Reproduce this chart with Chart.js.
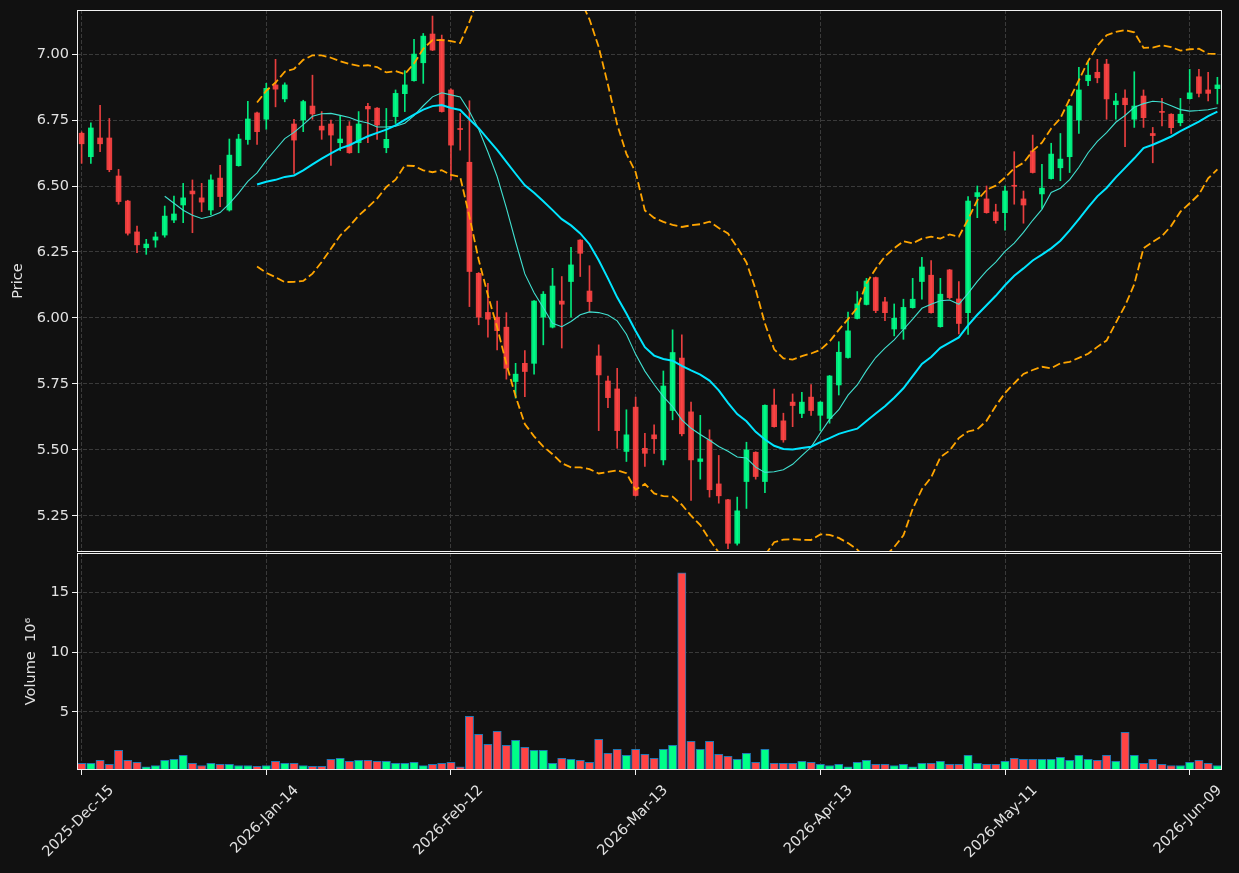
<!DOCTYPE html>
<html>
<head>
<meta charset="utf-8">
<script src="https://cdn.jsdelivr.net/npm/chart.js@4.4.1/dist/chart.umd.min.js"></script>
<style>
  html, body { margin: 0; padding: 0; background: #111111; }
  #wrap { position: relative; width: 1239px; height: 873px; background: #111111; overflow: hidden; }
  #priceCanvas { position: absolute; left: 0; top: 0; }
  #volCanvas { position: absolute; left: 0; top: 553px; }
</style>
</head>
<body>
<div id="wrap">
  <canvas id="priceCanvas" width="1239" height="553" style="width:1239px;height:553px"></canvas>
  <canvas id="volCanvas" width="1239" height="320" style="width:1239px;height:320px"></canvas>
</div>
<script>
/* Daily candles + MA(10), MA(20), Bollinger(20, 2) and a volume panel. */

// ---- Data (one entry per trading day) ----
const opens = [6.700, 6.611, 6.682, 6.682, 6.538, 6.443, 6.326, 6.266, 6.295, 6.314,
  6.371, 6.428, 6.481, 6.455, 6.409, 6.530, 6.409, 6.577, 6.676, 6.777,
  6.753, 6.883, 6.830, 6.735, 6.750, 6.803, 6.727, 6.735, 6.664, 6.727,
  6.664, 6.802, 6.795, 6.645, 6.763, 6.850, 6.899, 6.967, 7.076, 7.056,
  6.864, 6.718, 6.590, 6.169, 6.021, 6.003, 5.965, 5.759, 5.828, 5.828,
  6.003, 5.965, 6.064, 6.138, 6.295, 6.102, 5.856, 5.761, 5.731, 5.494,
  5.662, 5.506, 5.557, 5.462, 5.649, 5.848, 5.644, 5.456, 5.538, 5.371,
  5.311, 5.146, 5.380, 5.491, 5.380, 5.670, 5.610, 5.681, 5.638, 5.700,
  5.631, 5.619, 5.746, 5.850, 5.998, 6.051, 6.153, 6.061, 5.958, 5.958,
  6.039, 6.138, 6.162, 5.967, 6.182, 6.072, 6.020, 6.460, 6.451, 6.402,
  6.399, 6.501, 6.451, 6.633, 6.470, 6.528, 6.569, 6.611, 6.750, 6.899,
  6.931, 6.962, 6.808, 6.833, 6.753, 6.841, 6.699, 6.781, 6.772, 6.740,
  6.831, 6.914, 6.864, 6.869];

const highs = [6.705, 6.739, 6.806, 6.756, 6.563, 6.446, 6.348, 6.298, 6.325, 6.424,
  6.462, 6.510, 6.523, 6.510, 6.542, 6.578, 6.678, 6.696, 6.821, 6.780,
  6.889, 6.980, 6.891, 6.753, 6.825, 6.920, 6.782, 6.750, 6.765, 6.744,
  6.782, 6.813, 6.797, 6.794, 6.864, 6.937, 7.056, 7.078, 7.144, 7.072,
  6.868, 6.775, 6.823, 6.172, 6.131, 6.064, 6.020, 5.828, 5.876, 6.066,
  6.100, 6.188, 6.157, 6.268, 6.297, 6.198, 5.898, 5.780, 5.809, 5.652,
  5.700, 5.563, 5.595, 5.799, 5.955, 5.936, 5.681, 5.631, 5.576, 5.479,
  5.313, 5.321, 5.529, 5.493, 5.671, 5.730, 5.639, 5.712, 5.718, 5.747,
  5.683, 5.782, 5.910, 6.022, 6.100, 6.150, 6.155, 6.078, 6.053, 6.071,
  6.150, 6.230, 6.217, 6.150, 6.184, 6.138, 6.460, 6.500, 6.500, 6.431,
  6.500, 6.630, 6.481, 6.693, 6.582, 6.662, 6.699, 6.805, 6.950, 6.971,
  6.980, 6.980, 6.851, 6.864, 6.933, 6.864, 6.722, 6.832, 6.774, 6.832,
  6.942, 6.942, 6.931, 6.912];

const lows = [6.586, 6.586, 6.630, 6.554, 6.431, 6.314, 6.247, 6.241, 6.268, 6.306,
  6.361, 6.361, 6.323, 6.403, 6.390, 6.422, 6.405, 6.575, 6.658, 6.658,
  6.715, 6.800, 6.819, 6.548, 6.706, 6.753, 6.677, 6.578, 6.634, 6.624,
  6.626, 6.664, 6.677, 6.626, 6.737, 6.782, 6.897, 6.889, 7.013, 6.780,
  6.523, 6.636, 6.043, 5.974, 5.927, 5.879, 5.768, 5.696, 5.702, 5.787,
  5.898, 5.962, 5.886, 6.003, 6.157, 6.024, 5.573, 5.660, 5.506, 5.456,
  5.325, 5.437, 5.487, 5.443, 5.614, 5.553, 5.308, 5.389, 5.321, 5.298,
  5.126, 5.139, 5.278, 5.389, 5.338, 5.586, 5.529, 5.588, 5.622, 5.631,
  5.573, 5.601, 5.708, 5.848, 5.996, 6.049, 6.020, 5.990, 5.932, 5.919,
  6.037, 6.071, 6.018, 5.965, 6.072, 5.939, 5.938, 6.380, 6.397, 6.359,
  6.333, 6.431, 6.359, 6.549, 6.415, 6.526, 6.520, 6.551, 6.699, 6.880,
  6.891, 6.753, 6.753, 6.649, 6.722, 6.722, 6.588, 6.728, 6.699, 6.728,
  6.829, 6.838, 6.822, 6.811];

const closes = [6.660, 6.720, 6.660, 6.562, 6.441, 6.321, 6.277, 6.280, 6.307, 6.386,
  6.394, 6.455, 6.470, 6.439, 6.523, 6.460, 6.617, 6.678, 6.754, 6.706,
  6.870, 6.867, 6.883, 6.674, 6.820, 6.773, 6.712, 6.693, 6.678, 6.626,
  6.735, 6.792, 6.731, 6.677, 6.851, 6.883, 7.000, 7.068, 7.015, 6.782,
  6.655, 6.714, 6.176, 6.003, 5.995, 5.952, 5.809, 5.787, 5.797, 6.064,
  6.090, 6.121, 6.052, 6.201, 6.245, 6.062, 5.784, 5.698, 5.573, 5.557,
  5.327, 5.487, 5.542, 5.742, 5.869, 5.561, 5.462, 5.466, 5.349, 5.326,
  5.146, 5.269, 5.500, 5.399, 5.669, 5.588, 5.538, 5.668, 5.681, 5.649,
  5.681, 5.780, 5.870, 5.951, 6.053, 6.140, 6.028, 6.020, 5.999, 6.040,
  6.071, 6.193, 6.020, 6.090, 6.077, 5.979, 6.443, 6.475, 6.399, 6.369,
  6.481, 6.499, 6.428, 6.551, 6.492, 6.621, 6.602, 6.803, 6.864, 6.920,
  6.910, 6.830, 6.822, 6.808, 6.803, 6.759, 6.691, 6.779, 6.721, 6.772,
  6.853, 6.851, 6.851, 6.883];

// volume in millions
const volumes = [0.67, 0.67, 0.92, 0.59, 1.76, 0.92, 0.76, 0.39, 0.50, 0.92,
  1.01, 1.34, 0.67, 0.50, 0.67, 0.59, 0.59, 0.50, 0.50, 0.42,
  0.50, 0.84, 0.67, 0.67, 0.50, 0.42, 0.42, 1.01, 1.09, 0.84,
  0.92, 0.92, 0.84, 0.84, 0.67, 0.67, 0.76, 0.48, 0.59, 0.67,
  0.76, 0.39, 4.62, 3.11, 2.27, 3.36, 2.18, 2.61, 2.02, 1.76,
  1.76, 0.67, 1.09, 1.01, 0.92, 0.76, 2.69, 1.51, 1.85, 1.34,
  1.85, 1.43, 1.09, 1.85, 2.18, 16.64, 2.52, 1.85, 2.52, 1.43,
  1.26, 1.01, 1.51, 0.76, 1.85, 0.67, 0.67, 0.67, 0.84, 0.76,
  0.59, 0.50, 0.59, 0.39, 0.76, 0.92, 0.59, 0.59, 0.50, 0.59,
  0.39, 0.67, 0.67, 0.84, 0.59, 0.59, 1.34, 0.67, 0.59, 0.59,
  0.84, 1.09, 1.01, 1.01, 1.01, 1.01, 1.18, 0.92, 1.34, 1.01,
  0.92, 1.34, 0.84, 3.28, 1.34, 0.67, 1.01, 0.59, 0.50, 0.50,
  0.76, 0.92, 0.67, 0.50];

const tickIndex = [0, 20, 40, 60, 80, 100, 120];
const tickLabels = ["2025-Dec-15", "2026-Jan-14", "2026-Feb-12", "2026-Mar-13", "2026-Apr-13", "2026-May-11", "2026-Jun-09"];
const priceTicks = [5.25, 5.50, 5.75, 6.00, 6.25, 6.50, 6.75, 7.00];
const volumeTicks = [5, 10, 15];

// ---- Look ----
const TEXT = "#e2e2e2";
const GRID = "#3a3a3a";
const FONT = { family: "'DejaVu Sans', sans-serif", size: 14.5 };
const UP = "rgba(0,255,136,0.9)", DOWN = "rgba(255,68,68,0.9)";
const UP_VOL = "#00ff88", DOWN_VOL = "#ff4444";
const X_MIN = -0.5, X_MAX = closes.length - 0.5;

// ---- Indicators (from the closes above) ----
function rollingMean(vals, n) {
  return vals.map((_, i) => i < n - 1 ? null : vals.slice(i - n + 1, i + 1).reduce((a, b) => a + b, 0) / n);
}
function rollingStd(vals, n) {
  return vals.map((_, i) => {
    if (i < n - 1) return null;
    const w = vals.slice(i - n + 1, i + 1);
    const m = w.reduce((a, b) => a + b, 0) / n;
    return Math.sqrt(w.reduce((a, b) => a + (b - m) * (b - m), 0) / (n - 1));
  });
}
const ma10 = rollingMean(closes, 10);
const ma20 = rollingMean(closes, 20);
const sd20 = rollingStd(closes, 20);
const bbUp = ma20.map((m, i) => m == null ? null : m + 2 * sd20[i]);
const bbLo = ma20.map((m, i) => m == null ? null : m - 2 * sd20[i]);

const isUp = closes.map((c, i) => c >= opens[i]);
const pts = (arr) => arr.map((v, i) => ({ x: i, y: v }));

// ---- Shared bits ----
const framePlugin = {
  id: "frame",
  afterDraw(chart) {
    const { ctx, chartArea: a } = chart;
    ctx.save();
    ctx.strokeStyle = "#f2f2f2";
    ctx.lineWidth = 1;
    ctx.strokeRect(Math.round(a.left) + 0.5, Math.round(a.top) + 0.5,
      Math.round(a.right - a.left) - 1, Math.round(a.bottom - a.top) - 1);
    ctx.restore();
  },
};

const setTicks = (values) => (scale) => { scale.ticks = values.map((v) => ({ value: v })); };

function xScale(showLabels) {
  return {
    type: "linear", min: X_MIN, max: X_MAX, offset: false,
    afterBuildTicks: setTicks(tickIndex),
    afterFit: (s) => { s.height = showLabels ? 103 : 1; },
    grid: { color: GRID, offset: false, drawTicks: showLabels, tickColor: "#f2f2f2", tickLength: 5, tickBorderDash: [] },
    border: { display: false, dash: [4, 2] },
    ticks: {
      display: showLabels, color: TEXT, font: FONT, autoSkip: false,
      minRotation: 45, maxRotation: 45, labelOffset: 30, padding: 7,
      callback: (v) => tickLabels[tickIndex.indexOf(v)] ?? "",
    },
  };
}

function yScale(min, max, ticks, fmt, title, titlePad) {
  return {
    position: "left", min, max,
    afterBuildTicks: setTicks(ticks),
    // fixed width, and no extra room for the end labels so the plot edges stay put
    afterFit: (s) => { s.width = 77; s.paddingTop = 0; s.paddingBottom = 0; },
    grid: { color: GRID, tickColor: "#f2f2f2", tickLength: 5, tickBorderDash: [] },
    border: { display: false, dash: [4, 2] },
    ticks: { color: TEXT, font: FONT, padding: 3, callback: fmt },
    title: { display: true, text: title, color: TEXT, font: FONT, padding: { top: titlePad, bottom: 0 } },
  };
}

const baseOptions = {
  responsive: false, animation: false, events: [],
  plugins: { legend: { display: false }, tooltip: { enabled: false } },
};

// ---- Price panel ----
new Chart(document.getElementById("priceCanvas").getContext("2d"), {
  type: "bar",
  data: {
    datasets: [
      { type: "line", data: pts(ma20), borderColor: "#00e5ff", borderWidth: 2, pointRadius: 0, tension: 0, order: 0 },
      { type: "line", data: pts(ma10), borderColor: "#40e0d0", borderWidth: 1.1, pointRadius: 0, tension: 0, order: 0 },
      { type: "line", data: pts(bbUp), borderColor: "#ffa500", borderWidth: 1.8, borderDash: [8, 3.5], pointRadius: 0, tension: 0, order: 0 },
      { type: "line", data: pts(bbLo), borderColor: "#ffa500", borderWidth: 1.8, borderDash: [8, 3.5], pointRadius: 0, tension: 0, order: 0 },
      {
        type: "bar", data: closes.map((c, i) => ({ x: i, y: [opens[i], c] })),
        backgroundColor: isUp.map((u) => u ? UP : DOWN), barThickness: 5, minBarLength: 1,
        grouped: false, order: 1,
      },
      {
        type: "bar", data: closes.map((_, i) => ({ x: i, y: [lows[i], highs[i]] })),
        backgroundColor: isUp.map((u) => u ? UP : DOWN), barThickness: 1,
        grouped: false, order: 2,
      },
    ],
  },
  options: {
    ...baseOptions,
    layout: { padding: { top: 10, right: 17, left: 0, bottom: 0 } },
    scales: {
      x: xScale(false),
      y: yScale(5.113, 7.167, priceTicks, (v) => v.toFixed(2), "Price", 10),
    },
  },
  plugins: [framePlugin],
});

// ---- Volume panel ----
new Chart(document.getElementById("volCanvas").getContext("2d"), {
  type: "bar",
  data: {
    datasets: [{
      data: volumes.map((v, i) => ({ x: i, y: v })),
      backgroundColor: isUp.map((u) => u ? UP_VOL : DOWN_VOL),
      borderColor: "#1f77b4", borderWidth: 1, barThickness: 8.3, grouped: false,
    }],
  },
  options: {
    ...baseOptions,
    layout: { padding: { top: 0, right: 17, left: 0, bottom: 0 } },
    scales: {
      x: xScale(true),
      y: yScale(0.12, 18.3, volumeTicks, (v) => String(v), "Volume  10\u2076", 23),
    },
  },
  plugins: [framePlugin],
});
</script>
</body>
</html>
